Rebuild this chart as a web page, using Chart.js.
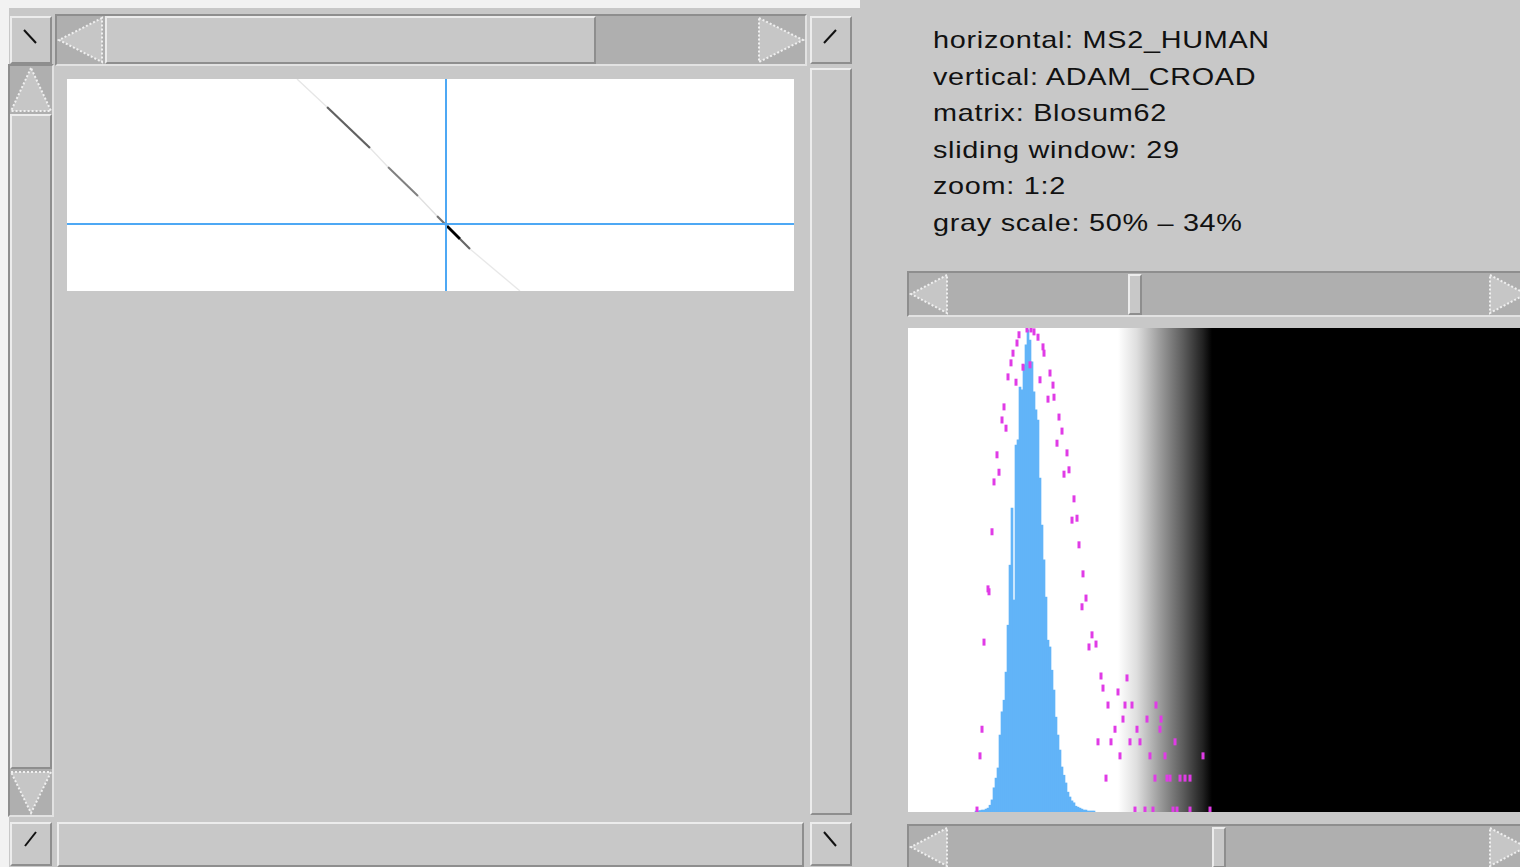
<!DOCTYPE html>
<html>
<head>
<meta charset="utf-8">
<script src="https://cdn.jsdelivr.net/npm/chart.js@4.4.1/dist/chart.umd.min.js"></script>
<style>
  html,body{margin:0;padding:0;}
  body{width:1520px;height:867px;background:#c8c8c8;position:relative;overflow:hidden;font-family:"Liberation Sans",Arial,sans-serif;}
  .abs{position:absolute;box-sizing:border-box;}
  .raised{background:#c8c8c8;border-top:2px solid #ececec;border-left:2px solid #ececec;border-bottom:2px solid #8e8e8e;border-right:2px solid #8e8e8e;}
  .trough{background:#afafaf;border-top:2px solid #8e8e8e;border-left:2px solid #8e8e8e;border-bottom:2px solid #e2e2e2;border-right:2px solid #e2e2e2;}
  .info{position:absolute;left:933px;top:22px;font-size:24px;line-height:36.5px;color:#111;letter-spacing:0.6px;transform:scaleX(1.2);transform-origin:0 0;white-space:pre;}
  svg{position:absolute;overflow:visible;}
</style>
</head>
<body>
<script>
// ---------------- DATA ----------------
// info panel text
const infoLines = [
  "horizontal: MS2_HUMAN",
  "vertical: ADAM_CROAD",
  "matrix: Blosum62",
  "sliding window: 29",
  "zoom: 1:2",
  "gray scale: 50% \u2013 34%"
];

// dotplot: sequence extents (residues) at zoom 1:2
const dotRangeX = [0, 1454];
const dotRangeY = [0, 424];
// diagonal alignment segments (residue coordinates) and their score shade (0..1)
const segStartX = [460, 520, 606, 642, 702, 740, 760, 786, 806];
const segStartY = [0,   56,  138, 176, 234, 274, 294, 320, 340];
const segEndX   = [520, 606, 642, 702, 740, 760, 786, 806, 906];
const segEndY   = [56,  138, 176, 234, 274, 294, 320, 340, 424];
const segScore  = [0.1, 0.62, 0.1, 0.5, 0.12, 0.55, 1.0, 0.6, 0.09];
// crosshair position (residues)
const crossX = 758;
const crossY = 290;

// histogram of window scores
const histRange = [0, 306];
const histScores = [34,35,36,37,38,39,40,41,42,43,44,45,46,47,48,49,50,51,52,53,54,55,56,57,58,59,60,61,62,63,64,65,66,67,68,69,70,71,72,73,74,75,76,77,78,79,80,81,82,83,84,85,86,87,88,89,90,91,92,93];
const histCounts = [0.2,0.2,0.3,0.4,0.4,0.6,0.8,1.4,2.5,5.0,7.0,9.1,15.9,20.7,23.1,28.9,38.6,51.0,62.8,43.8,75.8,76.9,87.8,87.2,92.4,96.5,99.6,97.5,93.0,86.8,83.1,81.0,69.0,59.3,52.1,44.4,35.5,34.1,29.3,25.2,19.6,15.9,12.8,9.3,7.6,6.0,4.1,3.1,2.3,1.9,1.2,1.0,0.8,0.6,0.4,0.4,0.2,0.2,0.2,0.2];
// expected-score distribution points (magenta)
const expX = [59.5,61.5,63,55.5,65,54.5,67.5,52.5,68,57.5,61,51.5,71,50,66,54,72.5,70,73,48,75.5,47,49,77,74.5,44.5,79.5,45.5,43,80.5,78,83,82,84.5,42,85.5,87.5,40,40.5,89,87,38,92,94,90.5,96.5,109.5,97.5,105,100,108.5,112,124,107.5,119.5,126.5,37,103.5,114.5,126,95,101.5,111,116,133.5,36,106,121,128.5,147.5,99,123.5,129.5,131,136,138.5,141,34.5,113.5,118.5,122.5,132.5,134.5,141,151];
const expY = [99.8,99.8,99.2,98.6,98.1,96.9,96.1,94.8,94.8,91.9,92.4,92.8,90.7,89.9,89.3,88.8,88.2,85.3,85.7,83.7,81.6,81.0,79.3,78.7,76.2,73.8,74.2,70.2,68.2,70.7,69.8,64.7,60.3,60.7,57.9,55.2,49.2,46.1,45.5,44.2,42.4,35.1,36.6,34.7,34.1,28.1,27.7,25.6,24.8,22.1,22.1,22.1,22.1,19.2,19.2,19.2,17.1,17.1,17.1,17.1,14.5,14.5,14.5,14.5,14.5,11.6,11.6,11.6,11.6,11.6,7.0,7.0,7.0,7.0,7.0,7.0,7.0,0.4,0.4,0.4,0.4,0.4,0.4,0.4,0.4];
// gray ramp limits (score units)
const grayLow = 105;
const grayHigh = 152;
// scrollbar thumb positions for the gray-ramp sliders (score units)
const sliderTop = grayLow + 5;
const sliderBottom = grayHigh;
</script>

<!-- light frame edges -->
<div class="abs" style="left:0;top:0;width:860px;height:8px;background:#f2f2f2"></div>
<div class="abs" style="left:0;top:0;width:9px;height:867px;background:#f2f2f2"></div>

<!-- top-left corner button -->
<div class="abs raised" style="left:10px;top:16px;width:42px;height:48px"></div>
<svg style="left:0;top:0" width="1" height="1"><line x1="24" y1="30" x2="36" y2="43" stroke="#111" stroke-width="2"/></svg>

<!-- top horizontal scrollbar -->
<div class="abs trough" style="left:55px;top:14px;width:752px;height:52px"></div>
<div class="abs raised" style="left:105px;top:16px;width:491px;height:48px"></div>
<svg style="left:0;top:0" width="1" height="1">
  <polygon points="102,18 59,40 102,62" fill="#c6c6c6" stroke="#f0f0f0" stroke-width="2" stroke-dasharray="2,2"/>
  <polygon points="759,18 803,40 759,62" fill="#c6c6c6" stroke="#f0f0f0" stroke-width="2" stroke-dasharray="2,2"/>
</svg>

<!-- top-right corner button -->
<div class="abs raised" style="left:810px;top:16px;width:42px;height:48px"></div>
<svg style="left:0;top:0" width="1" height="1"><line x1="836" y1="30" x2="824" y2="43" stroke="#111" stroke-width="2"/></svg>

<!-- left vertical scrollbar -->
<div class="abs trough" style="left:8px;top:64px;width:46px;height:753px"></div>
<div class="abs raised" style="left:10px;top:114px;width:42px;height:655px"></div>
<svg style="left:0;top:0" width="1" height="1">
  <polygon points="31,68 11,111 51,111" fill="#c6c6c6" stroke="#f0f0f0" stroke-width="2" stroke-dasharray="2,2"/>
  <polygon points="11,772 51,772 31,813" fill="#c6c6c6" stroke="#f0f0f0" stroke-width="2" stroke-dasharray="2,2"/>
</svg>

<!-- right vertical scrollbar -->
<div class="abs raised" style="left:810px;top:68px;width:42px;height:747px"></div>

<!-- bottom row -->
<div class="abs raised" style="left:10px;top:822px;width:42px;height:44px"></div>
<svg style="left:0;top:0" width="1" height="1"><line x1="36" y1="832" x2="25" y2="846" stroke="#111" stroke-width="2"/></svg>
<div class="abs raised" style="left:57px;top:822px;width:747px;height:45px"></div>
<div class="abs raised" style="left:810px;top:822px;width:42px;height:44px"></div>
<svg style="left:0;top:0" width="1" height="1"><line x1="824" y1="832" x2="836" y2="846" stroke="#111" stroke-width="2"/></svg>

<!-- dotplot -->
<div class="abs" style="left:67px;top:79px;width:727px;height:212px"><canvas id="dot"></canvas></div>

<!-- info text -->
<div class="info" id="info"></div>

<!-- right top slider -->
<div class="abs trough" style="left:907px;top:271px;width:630px;height:46px"></div>
<div class="abs raised" id="thumbTop" style="top:274px;width:14px;height:41px"></div>
<svg style="left:0;top:0" width="1" height="1">
  <polygon points="947,275 911,294 947,313" fill="#c6c6c6" stroke="#f0f0f0" stroke-width="2" stroke-dasharray="2,2"/>
  <polygon points="1490,275 1526,294 1490,313" fill="#c6c6c6" stroke="#f0f0f0" stroke-width="2" stroke-dasharray="2,2"/>
</svg>

<!-- histogram -->
<div class="abs" style="left:908px;top:328px;width:612px;height:484px"><canvas id="hist"></canvas></div>

<!-- right bottom slider -->
<div class="abs trough" style="left:907px;top:824px;width:630px;height:46px"></div>
<div class="abs raised" id="thumbBottom" style="top:827px;width:14px;height:41px"></div>
<svg style="left:0;top:0" width="1" height="1">
  <polygon points="947,828 911,847 947,866" fill="#c6c6c6" stroke="#f0f0f0" stroke-width="2" stroke-dasharray="2,2"/>
  <polygon points="1490,828 1526,847 1490,866" fill="#c6c6c6" stroke="#f0f0f0" stroke-width="2" stroke-dasharray="2,2"/>
</svg>

<script>
document.getElementById('info').textContent = infoLines.join('\n');

Chart.defaults.animation = false;
Chart.defaults.events = [];

// ---- dotplot ----
const dotDatasets = segStartX.map((sx, i) => {
  const g = Math.round(255 * (1 - segScore[i]));
  return {
    data: [{x: sx, y: segStartY[i]}, {x: segEndX[i], y: segEndY[i]}],
    showLine: true,
    borderColor: `rgb(${g},${g},${g})`,
    borderWidth: 1.2 + 1.6 * segScore[i],
    pointRadius: 0,
    order: 2
  };
});
dotDatasets.push({
  data: [{x: crossX, y: dotRangeY[0]}, {x: crossX, y: dotRangeY[1]}],
  showLine: true, borderColor: '#4ea8f4', borderWidth: 2, pointRadius: 0, order: 1
});
dotDatasets.push({
  data: [{x: dotRangeX[0], y: crossY}, {x: dotRangeX[1], y: crossY}],
  showLine: true, borderColor: '#4ea8f4', borderWidth: 2, pointRadius: 0, order: 1
});

const whiteBg = {
  id: 'whiteBg',
  beforeDraw(chart) {
    const {ctx, chartArea: a} = chart;
    ctx.save(); ctx.fillStyle = '#ffffff';
    ctx.fillRect(a.left, a.top, a.right - a.left, a.bottom - a.top);
    ctx.restore();
  }
};

new Chart(document.getElementById('dot'), {
  type: 'scatter',
  data: { datasets: dotDatasets },
  options: {
    responsive: true, maintainAspectRatio: false,
    layout: { padding: 0, autoPadding: false },
    plugins: { legend: { display: false }, tooltip: { enabled: false } },
    scales: {
      x: { type: 'linear', min: dotRangeX[0], max: dotRangeX[1], display: false },
      y: { type: 'linear', min: dotRangeY[0], max: dotRangeY[1], reverse: true, display: false }
    }
  },
  plugins: [whiteBg]
});

// ---- histogram ----
const grayRamp = {
  id: 'grayRamp',
  beforeDraw(chart) {
    const {ctx, chartArea: a, scales} = chart;
    const x0 = scales.x.getPixelForValue(grayLow);
    const x1 = scales.x.getPixelForValue(grayHigh);
    const g = ctx.createLinearGradient(x0, 0, x1, 0);
    g.addColorStop(0, '#ffffff');
    g.addColorStop(0.2, '#dedede');
    g.addColorStop(0.45, '#9a9a9a');
    g.addColorStop(0.7, '#5a5a5a');
    g.addColorStop(0.9, '#222222');
    g.addColorStop(1, '#000000');
    ctx.save(); ctx.fillStyle = g;
    ctx.fillRect(a.left, a.top, a.right - a.left, a.bottom - a.top);
    ctx.restore();
  }
};

const histChart = new Chart(document.getElementById('hist'), {
  type: 'bar',
  data: {
    datasets: [
      {
        type: 'scatter',
        data: expX.map((x, i) => ({x, y: expY[i]})),
        pointStyle: 'line', rotation: 90, pointRadius: 3.5,
        borderColor: '#e03be6', borderWidth: 3, backgroundColor: '#e03be6',
        order: 0
      },
      {
        type: 'bar',
        data: histScores.map((x, i) => ({x, y: histCounts[i]})),
        backgroundColor: '#62b4f8', borderWidth: 0,
        barPercentage: 1, categoryPercentage: 1,
        order: 1
      }
    ]
  },
  options: {
    responsive: true, maintainAspectRatio: false,
    layout: { padding: 0, autoPadding: false },
    plugins: { legend: { display: false }, tooltip: { enabled: false } },
    scales: {
      x: { type: 'linear', min: histRange[0], max: histRange[1], offset: false, display: false },
      y: { type: 'linear', min: 0, max: 100, display: false }
    }
  },
  plugins: [grayRamp]
});

// place gray-ramp slider thumbs through the histogram's x scale
const hx = histChart.scales.x;
document.getElementById('thumbTop').style.left = (908 + hx.getPixelForValue(sliderTop)) + 'px';
document.getElementById('thumbBottom').style.left = (908 + hx.getPixelForValue(sliderBottom)) + 'px';
</script>
</body>
</html>
